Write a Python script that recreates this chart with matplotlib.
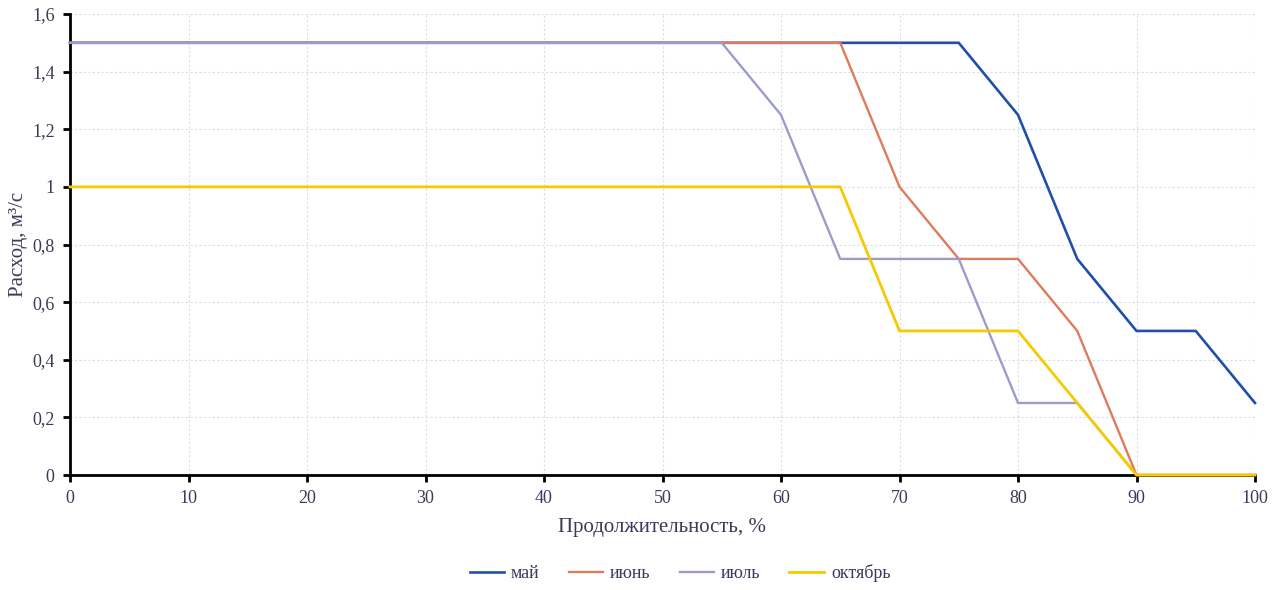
import matplotlib.pyplot as plt
from matplotlib.ticker import FuncFormatter, MultipleLocator

plt.rcParams['font.family'] = ['Liberation Serif', 'DejaVu Serif']

x = [0, 5, 10, 15, 20, 25, 30, 35, 40, 45, 50, 55, 60, 65, 70, 75, 80, 85, 90, 95, 100]
may = [1.5, 1.5, 1.5, 1.5, 1.5, 1.5, 1.5, 1.5, 1.5, 1.5, 1.5, 1.5, 1.5, 1.5, 1.5, 1.5, 1.25, 0.75, 0.5, 0.5, 0.25]
june = [1.5, 1.5, 1.5, 1.5, 1.5, 1.5, 1.5, 1.5, 1.5, 1.5, 1.5, 1.5, 1.5, 1.5, 1.0, 0.75, 0.75, 0.5, 0, 0, 0]
july = [1.5, 1.5, 1.5, 1.5, 1.5, 1.5, 1.5, 1.5, 1.5, 1.5, 1.5, 1.5, 1.25, 0.75, 0.75, 0.75, 0.25, 0.25, 0, 0, 0]
october = [1.0, 1.0, 1.0, 1.0, 1.0, 1.0, 1.0, 1.0, 1.0, 1.0, 1.0, 1.0, 1.0, 1.0, 0.5, 0.5, 0.5, 0.25, 0, 0, 0]

names = ['май', 'июнь', 'июль', 'октябрь']
colors = ['#1f4fa8', '#e07a5c', '#9c9ccc', '#f7c900']
widths = [1.9, 1.7, 1.7, 2.0]
text_col = '#3a3a5a'

fig = plt.figure(figsize=(12.79, 5.9), dpi=100)
ax = fig.add_axes([70 / 1279, 1 - 475 / 590, (1255 - 70) / 1279, (475 - 14) / 590])

for i, (ys, name, c, w) in enumerate(zip([may, june, july, october], names, colors, widths)):
    ax.plot(x, ys, color=c, lw=w, label=name, clip_on=False, zorder=3 + i * 0.1)

ax.set_xlim(0, 100)
ax.set_ylim(0, 1.6)
ax.xaxis.set_major_locator(MultipleLocator(10))
ax.yaxis.set_major_locator(MultipleLocator(0.2))
ax.yaxis.set_major_formatter(FuncFormatter(lambda v, p: ('%g' % round(v, 1)).replace('.', ',')))

ax.grid(True, color='#d4deef', ls=(0, (2, 2)), lw=0.8)
ax.set_axisbelow(True)
for s in ['top', 'right']:
    ax.spines[s].set_visible(False)
for s in ['left', 'bottom']:
    ax.spines[s].set_linewidth(2)
    ax.spines[s].set_color('black')
ax.tick_params(direction='out', length=5, width=2, colors='black', labelcolor=text_col,
               labelsize=13, pad=6)

ax.set_xlabel('Продолжительность, %', fontsize=15, color=text_col, labelpad=8)
ax.set_ylabel('Расход, м³/с', fontsize=15, color=text_col)
ax.yaxis.set_label_coords(-42 / 1185, 0.5)

fig.legend(loc='center', bbox_to_anchor=(680 / 1279, 1 - 573 / 590), ncol=4, frameon=False,
           fontsize=13, handlelength=1.9, handletextpad=0.4, columnspacing=1.6,
           labelcolor=text_col)

fig.savefig('out.png', dpi=100)
